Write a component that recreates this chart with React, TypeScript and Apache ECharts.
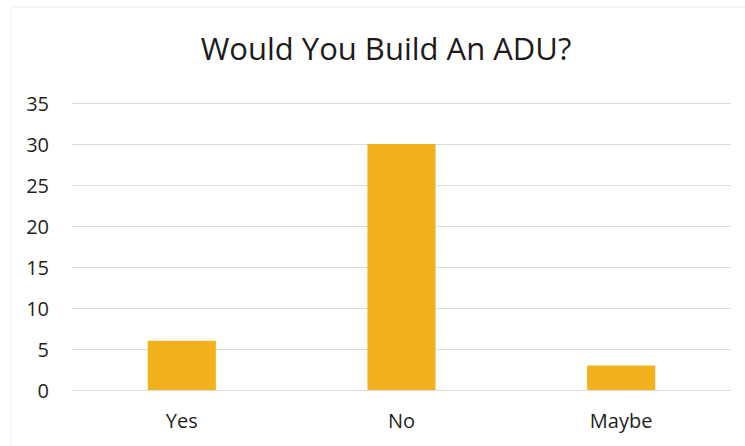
import React, { useEffect, useRef } from "react";
import * as echarts from "echarts";

const titleText = "Would You Build An ADU?";
const categories = ["Yes", "No", "Maybe"];
const values = [6, 30, 3];
const yMin = 0;
const yMax = 35;
const yInterval = 5;

export default function App() {
  const ref = useRef<HTMLDivElement>(null);
  useEffect(() => {
    document.body.style.margin = "0";
    const chart = echarts.init(ref.current!, null, { renderer: "svg" });
    chart.setOption({
      animation: false,
      backgroundColor: "#ffffff",
      title: {
        text: titleText,
        left: 381,
        textAlign: "center",
        top: 27,
        textStyle: {
          fontFamily: "Open Sans",
          fontSize: 31,
          fontWeight: "normal",
          color: "#1e1a1b",
        },
      },
      graphic: [
        {
          type: "line",
          shape: { x1: 11, y1: 7, x2: 745, y2: 7 },
          style: { stroke: "#ececec", lineWidth: 1 },
          silent: true,
        },
        {
          type: "line",
          shape: { x1: 11, y1: 7, x2: 11, y2: 446 },
          style: { stroke: "#f0f0f0", lineWidth: 1 },
          silent: true,
        },
      ],
      grid: { left: 72, right: 14, top: 103, bottom: 56, containLabel: false },
      xAxis: {
        type: "category",
        data: categories,
        axisLine: { show: false },
        axisTick: { show: false },
        axisLabel: {
          margin: 20,
          fontFamily: "Open Sans",
          fontSize: 20,
          color: "#1f1f1f",
        },
      },
      yAxis: {
        type: "value",
        min: yMin,
        max: yMax,
        interval: yInterval,
        axisLine: { show: false },
        axisTick: { show: false },
        axisLabel: {
          margin: 23,
          fontFamily: "Open Sans",
          fontSize: 20,
          color: "#1f1f1f",
        },
        splitLine: { lineStyle: { color: "#dcdcdc", width: 1 } },
      },
      series: [
        {
          type: "bar",
          data: values,
          barWidth: "31%",
          itemStyle: { color: "#F4B11E" },
        },
      ],
    });
    return () => chart.dispose();
  }, []);
  return <div ref={ref} style={{ width: 745, height: 446 }} />;
}
